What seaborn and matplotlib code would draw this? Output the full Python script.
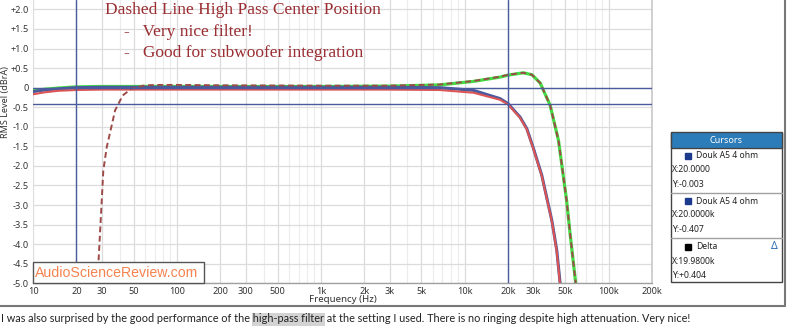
import numpy as np
import pandas as pd
import matplotlib
matplotlib.use("Agg")
import matplotlib.pyplot as plt
import matplotlib.ticker as mticker
from matplotlib.patches import Rectangle
import seaborn as sns

# ---------------- data ----------------
blue_f = [10, 12, 15, 20, 30, 50, 100, 1000, 3000, 6700, 11500, 17600, 20000, 24200, 27000, 30000, 34300, 40300, 43600, 46000, 48000]
blue_db = [-0.10, -0.06, -0.03, 0.0, 0.01, 0.01, 0.01, 0.01, 0.01, 0.0, -0.07, -0.28, -0.41, -0.75, -1.05, -1.55, -2.24, -3.40, -4.16, -5.0, -5.6]

red_f = [10, 12, 15, 20, 30, 50, 100, 1000, 3000, 6700, 11500, 17600, 20000, 24200, 27000, 30000, 34300, 40300, 43600, 46000, 48000]
red_db = [-0.17, -0.12, -0.08, -0.06, -0.05, -0.05, -0.05, -0.05, -0.05, -0.06, -0.13, -0.31, -0.43, -0.77, -1.07, -1.57, -2.26, -3.42, -4.20, -5.05, -5.6]

green_f = [10, 12, 15, 20, 30, 50, 100, 1000, 3000, 6700, 11500, 17600, 20000, 25500, 29300, 33400, 39200, 44800, 51000, 54000, 59000, 62000]
green_db = [-0.08, -0.04, -0.01, 0.02, 0.03, 0.03, 0.03, 0.03, 0.04, 0.07, 0.16, 0.27, 0.32, 0.38, 0.33, 0.12, -0.45, -1.35, -2.88, -3.75, -5.0, -5.6]

hp_f = [27, 28.5, 30.8, 32.5, 37.2, 42, 48.5, 60, 76, 100, 200, 1000, 3000, 6700, 11500, 17600, 20000, 25500, 29300, 33400, 39200, 44800, 51000, 54000, 59000, 62000]
hp_db = [-5.6, -4.47, -2.12, -1.53, -0.58, -0.2, -0.02, 0.06, 0.07, 0.07, 0.06, 0.05, 0.05, 0.08, 0.17, 0.28, 0.33, 0.38, 0.33, 0.12, -0.45, -1.35, -2.88, -3.75, -5.0, -5.6]

x_ticks = [10, 20, 30, 50, 100, 200, 300, 500, 1000, 2000, 3000, 5000, 10000, 20000, 30000, 50000, 100000, 200000]
x_tick_labels = ["10", "20", "30", "50", "100", "200", "300", "500", "1k", "2k", "3k", "5k", "10k", "20k", "30k", "50k", "100k", "200k"]
y_ticks = [2.0, 1.5, 1.0, 0.5, 0.0, -0.5, -1.0, -1.5, -2.0, -2.5, -3.0, -3.5, -4.0, -4.5, -5.0]
y_tick_labels = ["+2.0", "+1.5", "+1.0", "+0.5", "0", "-0.5", "-1.0", "-1.5", "-2.0", "-2.5", "-3.0", "-3.5", "-4.0", "-4.5", "-5.0"]

cursor_x = [20, 20000]
cursor_y = [-0.003, -0.407]

title_lines = ["Dashed Line High Pass Center Position", "-   Very nice filter!", "-   Good for subwoofer integration"]
cursor_entries = [("Douk A5 4 ohm", "X:20.0000", "Y:-0.003", "#1c3a8c"),
                  ("Douk A5 4 ohm", "X:20.0000k", "Y:-0.407", "#1c3a8c"),
                  ("Delta", "X:19.9800k", "Y:+0.404", "#000000")]

page_before = "I was also surprised by the good performance of the "
page_highlight = "high-pass filter"
page_after = " at the setting I used. There is no ringing despite high attenuation. Very nice!"

# ---------------- figure ----------------
sns.set_theme(style="white")
plt.rcParams["font.family"] = ["Noto Sans", "DejaVu Sans"]

W, H = 800, 331
fig = plt.figure(figsize=(8.0, 3.31), dpi=100)
fig.patch.set_facecolor("white")

def fx(x):
    return x / W

def fy(y):
    return 1 - y / H

ax_left, ax_right, ax_top, ax_bot = 33, 652, 0, 283.3
ax = fig.add_axes([fx(ax_left), fy(ax_bot), (ax_right - ax_left) / W, (ax_bot - ax_top) / H])
ax.set_facecolor("white")

def draw(f, db, color, lw, ls="-", z=2):
    df = pd.DataFrame({"f": f, "db": db})
    sns.lineplot(data=df, x="f", y="db", ax=ax, color=color, linewidth=lw, linestyle=ls,
                 zorder=z, sort=False, estimator=None)

draw(green_f, green_db, "#44dc44", 2.3, z=3)
draw(blue_f, blue_db, "#4a5a9e", 2.2, z=4)
draw(red_f, red_db, "#dc5454", 1.5, z=5)
draw(hp_f, hp_db, "#9c4a48", 1.4, ls=(0, (3, 1.8)), z=6)

ax.set_xscale("log")
ax.set_xlim(10, 200000)
ax.set_ylim(-5.0, 2.24)

ax.xaxis.set_major_locator(mticker.FixedLocator(x_ticks))
ax.xaxis.set_major_formatter(mticker.FixedFormatter(x_tick_labels))
ax.xaxis.set_minor_locator(mticker.LogLocator(base=10, subs=np.arange(1, 10)))
ax.xaxis.set_minor_formatter(mticker.NullFormatter())
ax.set_yticks(y_ticks)
ax.set_yticklabels(y_tick_labels)

ax.grid(True, which="major", color="#dcdcdc", linewidth=0.9)
ax.grid(True, which="minor", axis="x", color="#ececec", linewidth=0.8)
ax.set_axisbelow(True)
ax.tick_params(axis="both", which="both", length=0, labelsize=6.6, colors="#333333")
ax.tick_params(axis="x", pad=3)
ax.tick_params(axis="y", pad=3)

for s in ["top", "left"]:
    ax.spines[s].set_visible(False)
ax.spines["right"].set_color("#c8c8c8")
ax.spines["bottom"].set_color("#a0a0a0")
ax.spines["right"].set_linewidth(1.2)
ax.spines["bottom"].set_linewidth(1.0)

ax.set_xlabel("Frequency (Hz)", fontsize=7, color="#333333", labelpad=-1)
ax.set_ylabel("RMS Level (dBrA)", fontsize=6.5, color="#333333")
ax.yaxis.set_label_coords(-0.0375, 0.64)

for cx in cursor_x:
    ax.axvline(cx, color="#4a5c9e", linewidth=1.0, zorder=7)
for cy in cursor_y:
    ax.axhline(cy, color="#4a5c9e", linewidth=1.0, zorder=7)

# title annotation
serif = ["Liberation Serif", "DejaVu Serif"]
fig.text(fx(105), fy(10), title_lines[0], family=serif, fontsize=12.5, color="#9a2e32", va="center", ha="left")
fig.text(fx(124), fy(32), title_lines[1], family=serif, fontsize=12.5, color="#9a2e32", va="center", ha="left")
fig.text(fx(124), fy(53), title_lines[2], family=serif, fontsize=12.5, color="#9a2e32", va="center", ha="left")

# watermark
fig.patches.append(Rectangle((fx(33), fy(283.3)), (204 - 33) / W, (283.3 - 262.3) / H,
                             transform=fig.transFigure, facecolor="white", edgecolor="#555555",
                             linewidth=1.0, zorder=10))
fig.text(fx(35), fy(273), "AudioScienceReview.com", family=["Liberation Sans", "DejaVu Sans"],
         fontsize=10.2, color="#f5834f", va="center", ha="left", zorder=11)

# cursor panel
bx0, bx1, by0, by1 = 671, 782, 132.5, 282
fig.patches.append(Rectangle((fx(bx0), fy(by1)), (bx1 - bx0) / W, (by1 - by0) / H,
                             transform=fig.transFigure, facecolor="white", edgecolor="#444444",
                             linewidth=1.0, zorder=10))
fig.patches.append(Rectangle((fx(bx0), fy(147.7)), (bx1 - bx0) / W, (147.7 - by0) / H,
                             transform=fig.transFigure, facecolor="#2b7cb8", edgecolor="#444444",
                             linewidth=1.0, zorder=11))
fig.text(fx((bx0 + bx1) / 2), fy(140.5), "Cursors", fontsize=6.5, color="white", fontweight="bold",
         ha="center", va="center", zorder=12)
for sep in [192.7, 238.3]:
    fig.lines.append(plt.Line2D([fx(bx0), fx(bx1)], [fy(sep), fy(sep)], transform=fig.transFigure,
                                color="#a0a0a0", linewidth=1.0, zorder=12))
rows = [(155.7, 169.3, 184.3), (201, 214.6, 229.3), (246.7, 261, 275.7)]
for (name, xs, ys, col), (y1, y2, y3) in zip(cursor_entries, rows):
    fig.patches.append(Rectangle((fx(685), fy(y1 + 3)), 6 / W, 6 / H, transform=fig.transFigure,
                                 facecolor=col, edgecolor=col, zorder=12))
    fig.text(fx(696), fy(y1), name, fontsize=6.2, color="#222222", ha="left", va="center", zorder=12)
    fig.text(fx(672), fy(y2), xs, fontsize=6.2, color="#222222", ha="left", va="center", zorder=12)
    fig.text(fx(672), fy(y3), ys, fontsize=6.2, color="#222222", ha="left", va="center", zorder=12)
fig.text(fx(774), fy(246.7), "\u0394", fontsize=7.5, color="#2b6cb0", ha="center", va="center",
         fontweight="bold", zorder=12)

# outer frame
fig.lines.append(plt.Line2D([0, fx(785)], [fy(305.5), fy(305.5)], transform=fig.transFigure,
                            color="#777777", linewidth=1.5, zorder=12))
fig.lines.append(plt.Line2D([fx(785), fx(785)], [fy(305.5), 1], transform=fig.transFigure,
                            color="#777777", linewidth=1.5, zorder=12))

# page text below, fitted to the reference width
renderer = fig.canvas.get_renderer()
page_family = ["Lato", "Noto Sans", "DejaVu Sans"]
full = page_before + page_highlight + page_after
probe = fig.text(0, 0, full, fontsize=10, family=page_family)
wfull = probe.get_window_extent(renderer).width
probe.remove()
fs = 10 * (687.0 / wfull)
probe = fig.text(0, 0, page_before, fontsize=fs, family=page_family)
wb = probe.get_window_extent(renderer).width
probe.remove()
probe = fig.text(0, 0, page_highlight, fontsize=fs, family=page_family)
wh = probe.get_window_extent(renderer).width
probe.remove()
x0 = 1.0
fig.patches.append(Rectangle((fx(x0 + wb - 1), fy(326)), (wh + 2) / W, (326 - 312.7) / H,
                             transform=fig.transFigure, facecolor="#d3d3d3", edgecolor="none", zorder=10))
fig.text(fx(x0), fy(319), full, fontsize=fs, family=page_family,
         color="#222222", ha="left", va="center", zorder=11)

fig.savefig("out.png", dpi=100, facecolor="white")
